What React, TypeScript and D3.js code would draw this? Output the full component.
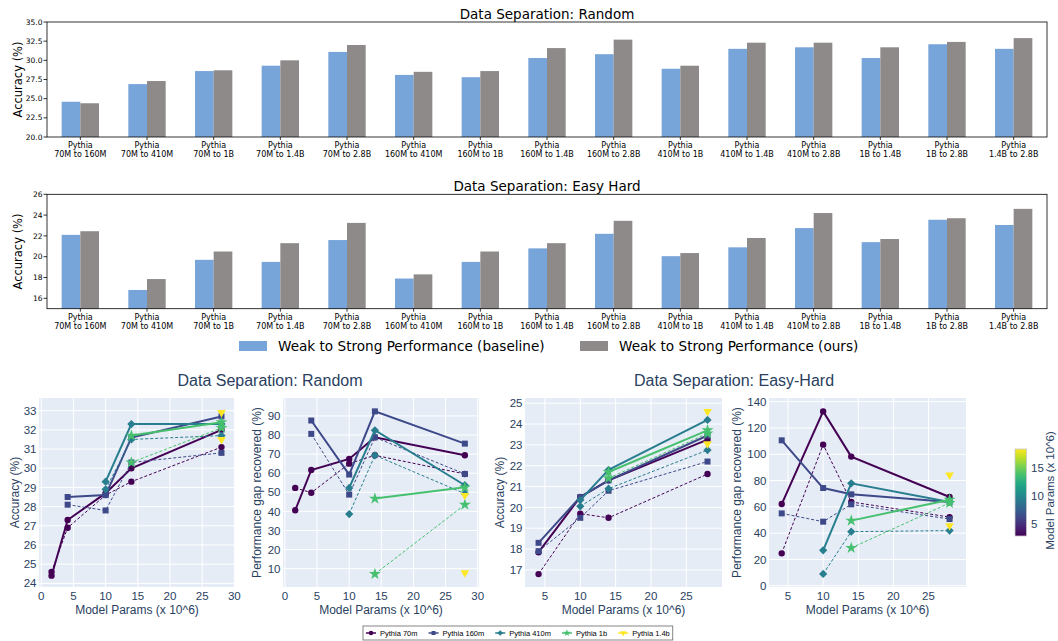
import React, {useEffect, useRef} from 'react';
import * as d3 from 'd3';

// weak -> strong pairs, same order for every array below
const pairLabels = [
    '70M to 160M', '70M to 410M', '70M to 1B', '70M to 1.4B', '70M to 2.8B',
    '160M to 410M', '160M to 1B', '160M to 1.4B', '160M to 2.8B',
    '410M to 1B', '410M to 1.4B', '410M to 2.8B',
    '1B to 1.4B', '1B to 2.8B', '1.4B to 2.8B',
];
const pairWeak = [0, 0, 0, 0, 0, 1, 1, 1, 1, 2, 2, 2, 3, 3, 4];
const pairStrong = [0, 1, 2, 3, 4, 1, 2, 3, 4, 2, 3, 4, 3, 4, 4];

const randomBaseline = [24.6, 26.9, 28.6, 29.3, 31.1, 28.1, 27.8, 30.3, 30.8, 28.9, 31.5, 31.7, 30.3, 32.1, 31.5];
const randomOurs = [24.4, 27.3, 28.7, 30.0, 32.0, 28.5, 28.6, 31.6, 32.7, 29.3, 32.3, 32.3, 31.7, 32.4, 32.9];
const easyBaseline = [22.1, 16.8, 19.7, 19.5, 21.6, 17.9, 19.5, 20.8, 22.2, 20.05, 20.9, 22.75, 21.4, 23.55, 23.05];
const easyOurs = [22.45, 17.85, 20.5, 21.3, 23.25, 18.3, 20.5, 21.3, 23.45, 20.35, 21.8, 24.2, 21.7, 23.7, 24.6];

// performance gap recovered (%), null = not plotted
const randomPgrOurs = [40.6, 61.7, 67.5, 78.8, 69.4, 87.6, 59.3, 92.4, 75.5, 52.3, 82.5, 53.7, 46.7, 52.6, 48.4];
const randomPgrBase = [52.3, 49.8, 65.0, 69.4, 59.6, 80.6, 48.8, 78.8, 59.6, 38.6, 69.4, 49.3, 7.2, 43.5, 7.9];
const easyPgrOurs = [null, 62.1, 132.6, 98.2, 67.5, 110.6, 74.3, 69.5, 63.7, 26.9, 77.9, 63.7, 49.5, 65.4, 84.2];
const easyPgrBase = [null, 24.6, 107.3, 63.7, 52.2, 55.0, 48.7, 61.9, 50.7, 8.9, 41.1, 41.9, 28.7, 62.9, 45.7];

const weakNames = ['Pythia 70m', 'Pythia 160m', 'Pythia 410m', 'Pythia 1b', 'Pythia 1.4b'];
const weakColorVals = [2.9, 6.3, 9.4, 13.8, 18.4];
const strongParams = [1.6, 4.1, 10, 14, 28];

const randomTicks = [20, 22.5, 25, 27.5, 30, 32.5, 35];
const easyTicks = [16, 18, 20, 22, 24, 26];
const colorbarTicks = [5, 10, 15];

const BLUE = '#77a4d9';
const GREY = '#8e8a89';
const PLOTLY_TEXT = '#2a3f5f';
const MPL_FONT = '"DejaVu Sans", sans-serif';
const PLY_FONT = '"Liberation Sans", Arial, sans-serif';
const C_MIN = 2.87;
const C_MAX = 18.4;

const colorFor = (w: number) => d3.interpolateViridis((weakColorVals[w] - C_MIN) / (C_MAX - C_MIN));

const symbolTypes = [d3.symbolCircle, d3.symbolSquare, d3.symbolSquare, d3.symbolStar, d3.symbolTriangle];
const symbolRotate = [0, 0, 45, 0, 180];

const App: React.FC = () => {
    const svgRef = useRef<SVGSVGElement | null>(null);

    useEffect(() => {
        if (svgRef.current) {
            draw();
        }
    }, []);

    const draw = () => {
        const svg = d3.select(svgRef.current);
        svg.selectAll('*').remove();

        drawBarPanel(svg, 22, 137, [20, 35], randomTicks, d3.format('.1f'), 'Data Separation: Random', randomBaseline, randomOurs);
        drawBarPanel(svg, 194.3, 308.7, [15, 26], easyTicks, d3.format('d'), 'Data Separation: Easy Hard', easyBaseline, easyOurs);
        drawBarLegend(svg);

        svg.append('text').attr('x', 270).attr('y', 386).attr('text-anchor', 'middle')
            .style('font-family', PLY_FONT).style('font-size', '16px').style('fill', PLOTLY_TEXT)
            .text('Data Separation: Random');
        svg.append('text').attr('x', 734).attr('y', 386).attr('text-anchor', 'middle')
            .style('font-family', PLY_FONT).style('font-size', '16px').style('fill', PLOTLY_TEXT)
            .text('Data Separation: Easy-Hard');

        drawScatterPanel(svg, [39, 235], [-0.35, 30.1], [23.81, 33.66], d3.range(0, 31, 5), d3.range(24, 34, 1),
            'Accuracy (%)', 15, randomBaseline, randomOurs, null);
        drawScatterPanel(svg, [283, 479], [-0.3, 30.2], [0.4, 99.4], d3.range(0, 31, 5), d3.range(10, 91, 10),
            'Performance gap recovered (%)', 257, randomPgrBase, randomPgrOurs, null);
        drawScatterPanel(svg, [525, 722], [2.18, 30.05], [16.18, 25.25], d3.range(5, 26, 5), d3.range(17, 26, 1),
            'Accuracy (%)', 500, easyBaseline, easyOurs, easyPgrOurs);
        drawScatterPanel(svg, [769, 966], [2.29, 30.34], [-1, 142.8], d3.range(5, 26, 5), d3.range(0, 141, 20),
            'Performance gap recovered (%)', 737, easyPgrBase, easyPgrOurs, easyPgrOurs);

        drawColorbar(svg);
        drawScatterLegend(svg);
    };

    const drawBarPanel = (
        svg: d3.Selection<SVGSVGElement | null, unknown, null, undefined>,
        top: number, bottom: number, yDomain: [number, number], ticks: number[],
        fmt: (n: number) => string, title: string, base: number[], ours: number[]
    ) => {
        const left = 47, right = 1047;
        const x = d3.scaleBand<string>().domain(pairLabels).range([left, right]);
        const y = d3.scaleLinear().domain(yDomain).range([bottom, top]);
        const bw = x.bandwidth() * 0.28;
        const center = (i: number) => (x(pairLabels[i]) as number) + x.bandwidth() / 2;
        const g = svg.append('g');

        g.selectAll('rect.base').data(base).enter().append('rect')
            .attr('x', (d, i) => center(i) - bw)
            .attr('y', (d) => y(d))
            .attr('width', bw)
            .attr('height', (d) => bottom - y(d))
            .attr('fill', BLUE);
        g.selectAll('rect.ours').data(ours).enter().append('rect')
            .attr('x', (d, i) => center(i))
            .attr('y', (d) => y(d))
            .attr('width', bw)
            .attr('height', (d) => bottom - y(d))
            .attr('fill', GREY);

        g.append('rect')
            .attr('x', left).attr('y', top)
            .attr('width', right - left).attr('height', bottom - top)
            .attr('fill', 'none').attr('stroke', '#000').attr('stroke-width', 0.8);

        ticks.forEach((t) => {
            g.append('line').attr('x1', left - 3.5).attr('x2', left).attr('y1', y(t)).attr('y2', y(t))
                .attr('stroke', '#000').attr('stroke-width', 0.8);
            g.append('text').attr('x', left - 4.5).attr('y', y(t)).attr('dy', '0.35em')
                .attr('text-anchor', 'end')
                .style('font-family', MPL_FONT).style('font-size', '7.5px').style('fill', '#000')
                .text(fmt(t));
        });

        pairLabels.forEach((lab, i) => {
            const cx = center(i);
            g.append('line').attr('x1', cx).attr('x2', cx).attr('y1', bottom).attr('y2', bottom + 3)
                .attr('stroke', '#000').attr('stroke-width', 0.8);
            const t = g.append('text').attr('text-anchor', 'middle')
                .style('font-family', MPL_FONT).style('font-size', '8px').style('fill', '#000');
            t.append('tspan').attr('x', cx).attr('y', bottom + 11).text('Pythia');
            t.append('tspan').attr('x', cx).attr('y', bottom + 20).text(lab);
        });

        g.append('text')
            .attr('transform', `translate(22,${(top + bottom) / 2}) rotate(-90)`)
            .attr('text-anchor', 'middle')
            .style('font-family', MPL_FONT).style('font-size', '11.5px').style('fill', '#000')
            .text('Accuracy (%)');

        g.append('text').attr('x', (left + right) / 2).attr('y', top - 3.5).attr('text-anchor', 'middle')
            .style('font-family', MPL_FONT).style('font-size', '13.5px').style('fill', '#000')
            .text(title);
    };

    const drawBarLegend = (svg: d3.Selection<SVGSVGElement | null, unknown, null, undefined>) => {
        const items = [
            {label: 'Weak to Strong Performance (baseline)', color: BLUE, x: 239},
            {label: 'Weak to Strong Performance (ours)', color: GREY, x: 580},
        ];
        items.forEach((it) => {
            svg.append('rect').attr('x', it.x).attr('y', 341).attr('width', 28).attr('height', 10).attr('fill', it.color);
            svg.append('text').attr('x', it.x + 39).attr('y', 351)
                .style('font-family', MPL_FONT).style('font-size', '13.6px').style('fill', '#000')
                .text(it.label);
        });
    };

    const symbolPath = (w: number) => {
        const sizes = [32, 36, 34, 44, 32];
        return d3.symbol().type(symbolTypes[w]).size(sizes[w])() as string;
    };

    const drawScatterPanel = (
        svg: d3.Selection<SVGSVGElement | null, unknown, null, undefined>,
        xRange: [number, number], xDomain: [number, number], yDomain: [number, number],
        xTicks: number[], yTicks: number[], yLabel: string, labelX: number,
        base: (number | null)[], ours: (number | null)[], keep: (number | null)[] | null
    ) => {
        const top = 398, bottom = 587;
        const x = d3.scaleLinear().domain(xDomain).range(xRange);
        const y = d3.scaleLinear().domain(yDomain).range([bottom, top]);
        const g = svg.append('g');

        g.append('rect').attr('x', xRange[0]).attr('y', top)
            .attr('width', xRange[1] - xRange[0]).attr('height', bottom - top).attr('fill', '#e5ecf6');

        xTicks.forEach((t) => {
            g.append('line').attr('x1', x(t)).attr('x2', x(t)).attr('y1', top).attr('y2', bottom)
                .attr('stroke', '#fff').attr('stroke-width', 1);
            g.append('text').attr('x', x(t)).attr('y', bottom + 13).attr('text-anchor', 'middle')
                .style('font-family', PLY_FONT).style('font-size', '11.5px').style('fill', PLOTLY_TEXT)
                .text(t);
        });
        yTicks.forEach((t) => {
            g.append('line').attr('x1', xRange[0]).attr('x2', xRange[1]).attr('y1', y(t)).attr('y2', y(t))
                .attr('stroke', '#fff').attr('stroke-width', 1);
            g.append('text').attr('x', xRange[0] - 2.5).attr('y', y(t)).attr('dy', '0.36em').attr('text-anchor', 'end')
                .style('font-family', PLY_FONT).style('font-size', '11.5px').style('fill', PLOTLY_TEXT)
                .text(t);
        });

        const line = d3.line<{ px: number; v: number }>().x((d) => x(d.px)).y((d) => y(d.v));

        weakNames.forEach((name, w) => {
            const idx = pairLabels.map((_, i) => i)
                .filter((i) => pairWeak[i] === w && (keep === null || keep[i] !== null));
            const color = colorFor(w);
            const series = [
                {vals: base, dash: '3,2', width: 1},
                {vals: ours, dash: null, width: 2},
            ];
            series.forEach((s) => {
                const pts = idx.map((i) => ({px: strongParams[pairStrong[i]], v: s.vals[i] as number}));
                g.append('path').attr('d', line(pts) as string)
                    .attr('fill', 'none').attr('stroke', color).attr('stroke-width', s.width)
                    .attr('stroke-dasharray', s.dash);
                g.selectAll(null).data(pts).enter().append('path')
                    .attr('d', symbolPath(w))
                    .attr('transform', (d) => `translate(${x(d.px)},${y(d.v)}) rotate(${symbolRotate[w]})`)
                    .attr('fill', color);
            });
        });

        g.append('text')
            .attr('transform', `translate(${labelX},${(top + bottom) / 2}) rotate(-90)`)
            .attr('dy', '0.35em').attr('text-anchor', 'middle')
            .style('font-family', PLY_FONT).style('font-size', '12px').style('fill', PLOTLY_TEXT)
            .text(yLabel);
        g.append('text').attr('x', (xRange[0] + xRange[1]) / 2).attr('y', 614).attr('text-anchor', 'middle')
            .style('font-family', PLY_FONT).style('font-size', '12px').style('fill', PLOTLY_TEXT)
            .text('Model Params (x 10^6)');
    };

    const drawColorbar = (svg: d3.Selection<SVGSVGElement | null, unknown, null, undefined>) => {
        const cTop = 449, cBottom = 536, cLeft = 1015, cW = 11.5;
        const c = d3.scaleLinear().domain([C_MIN, C_MAX]).range([cBottom, cTop]);
        const grad = svg.append('defs').append('linearGradient')
            .attr('id', 'viridisBar').attr('x1', '0%').attr('y1', '100%').attr('x2', '0%').attr('y2', '0%');
        d3.range(0, 1.0001, 0.1).forEach((t) => {
            grad.append('stop').attr('offset', `${t * 100}%`).attr('stop-color', d3.interpolateViridis(t));
        });
        svg.append('rect').attr('x', cLeft).attr('y', cTop).attr('width', cW).attr('height', cBottom - cTop)
            .attr('fill', 'url(#viridisBar)').attr('stroke', '#c8c8c8').attr('stroke-width', 0.8);
        colorbarTicks.forEach((t) => {
            svg.append('text').attr('x', cLeft + cW + 4.5).attr('y', c(t)).attr('dy', '0.36em')
                .style('font-family', PLY_FONT).style('font-size', '11.5px').style('fill', PLOTLY_TEXT)
                .text(t);
        });
        svg.append('text')
            .attr('transform', `translate(1050,${(cTop + cBottom) / 2 - 2}) rotate(-90)`)
            .attr('dy', '0.35em').attr('text-anchor', 'middle')
            .style('font-family', PLY_FONT).style('font-size', '11.5px').style('fill', PLOTLY_TEXT)
            .text('Model Params (x 10^6)');
    };

    const drawScatterLegend = (svg: d3.Selection<SVGSVGElement | null, unknown, null, undefined>) => {
        const g = svg.append('g');
        const box = g.append('rect').attr('x', 363).attr('y', 626).attr('width', 277).attr('height', 14)
            .attr('fill', '#fff').attr('stroke', '#666').attr('stroke-width', 0.8);
        let cursor = 366;
        weakNames.forEach((name, w) => {
            const color = colorFor(w);
            const cy = 633;
            g.append('line').attr('x1', cursor).attr('x2', cursor + 10).attr('y1', cy).attr('y2', cy)
                .attr('stroke', color).attr('stroke-width', 1.5);
            g.append('path').attr('d', d3.symbol().type(symbolTypes[w]).size(16)() as string)
                .attr('transform', `translate(${cursor + 5},${cy}) rotate(${symbolRotate[w]})`)
                .attr('fill', color);
            const t = g.append('text').attr('x', cursor + 14).attr('y', cy).attr('dy', '0.35em')
                .style('font-family', PLY_FONT).style('font-size', '7.5px').style('fill', '#000')
                .text(name);
            const len = (t.node() as SVGTextElement).getComputedTextLength();
            cursor = cursor + 14 + len + 11;
        });
        box.attr('width', cursor - 8 - 363);
    };

    return (
        <svg ref={svgRef} width={1058} height={641}
             style={{position: 'absolute', left: 0, top: 0, background: '#fff'}}></svg>
    );
};

export default App;
